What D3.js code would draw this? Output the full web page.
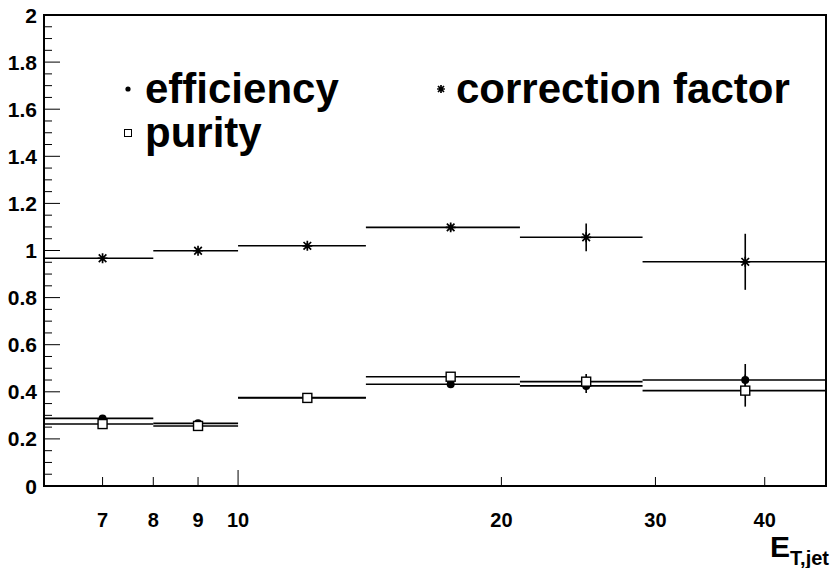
<!DOCTYPE html>
<html><head><meta charset="utf-8">
<script src="https://cdn.jsdelivr.net/npm/d3@7"></script>
<style>
html,body{margin:0;padding:0;background:#fff;}
svg{display:block;font-family:"Liberation Sans",Arial,Helvetica,sans-serif;font-weight:bold;}
</style></head>
<body><svg id="c" width="834" height="568"></svg>
<script>
// ---- data ----
const binEdges   = [6, 8, 10, 14, 21, 29, 47];
const binCenters = [7, 9, 12, 17.5, 25, 38];
const corr    = [0.967, 0.999, 1.020, 1.098, 1.056, 0.952];
const corrErr = [0.010, 0.010, 0.012, 0.015, 0.059, 0.119];
const eff     = [0.287, 0.266, 0.376, 0.432, 0.425, 0.450];
const effErr  = [0.006, 0.006, 0.008, 0.010, 0.030, 0.068];
const pur     = [0.263, 0.255, 0.374, 0.464, 0.443, 0.405];
const purErr  = [0.006, 0.006, 0.008, 0.010, 0.033, 0.068];
const xTickLabels = [7, 8, 9, 10, 20, 30, 40];
const yTickLabels = [0, 0.2, 0.4, 0.6, 0.8, 1, 1.2, 1.4, 1.6, 1.8, 2];
const legendLabels = ["efficiency", "purity", "correction factor"];

// ---- layout ----
const svg = d3.select("#c");
const L = 44, R = 826, T = 15, B = 486;
const x = d3.scaleLog().domain([6, 47]).range([L, R]);
const y = d3.scaleLinear().domain([0, 2]).range([B, T]);

// y axis ticks
const g = svg.append("g");
const yMinor = d3.range(0, 2.0001, 0.05);
g.selectAll("line.ym").data(yMinor).enter().append("line")
  .attr("x1", L).attr("x2", d => (Math.abs(d/0.2 - Math.round(d/0.2)) < 1e-6) ? L + 16 : L + 8)
  .attr("y1", d => y(d)).attr("y2", d => y(d))
  .attr("stroke", "#000").attr("stroke-width", 1);
g.selectAll("text.yl").data(yTickLabels).enter().append("text")
  .attr("x", 37).attr("y", d => y(d) + 7.5)
  .attr("text-anchor", "end").attr("font-size", 21)
  .text(d => d3.format("~g")(d));

// x axis ticks
g.selectAll("line.xt").data(xTickLabels).enter().append("line")
  .attr("x1", d => x(d)).attr("x2", d => x(d))
  .attr("y1", B).attr("y2", d => d === 10 ? B - 16 : B - 9)
  .attr("stroke", "#000").attr("stroke-width", 1);
g.selectAll("text.xl").data(xTickLabels).enter().append("text")
  .attr("x", d => x(d)).attr("y", 527)
  .attr("text-anchor", "middle").attr("font-size", 20)
  .text(d => d);

// axis title
const t = svg.append("text").attr("x", 829).attr("y", 557).attr("text-anchor", "end");
t.append("tspan").attr("font-size", 30).text("E");
t.append("tspan").attr("font-size", 20).attr("dy", 8).text("T,jet");

// frame
svg.append("rect").attr("x", L).attr("y", T).attr("width", R - L).attr("height", B - T)
  .attr("fill", "none").attr("stroke", "#000").attr("stroke-width", 2);

// ---- series ----
const plot = svg.append("g");
function errBars(vals, errs) {
  const gg = plot.append("g").attr("stroke", "#000").attr("stroke-width", 1.6);
  vals.forEach((v, i) => {
    gg.append("line").attr("x1", x(binEdges[i])).attr("x2", x(binEdges[i+1]))
      .attr("y1", y(v)).attr("y2", y(v));
    gg.append("line").attr("x1", x(binCenters[i])).attr("x2", x(binCenters[i]))
      .attr("y1", y(v - errs[i])).attr("y2", y(v + errs[i]));
  });
}
errBars(corr, corrErr);
errBars(eff, effErr);
errBars(pur, purErr);

function star(sel, cx, cy, s) {
  const p = `M${cx-s},${cy-s}L${cx+s},${cy+s}M${cx-s},${cy+s}L${cx+s},${cy-s}M${cx},${cy-s*1.3}L${cx},${cy+s*1.3}M${cx-s*1.3},${cy}L${cx+s*1.3},${cy}`;
  sel.append("path").attr("d", p).attr("stroke", "#000").attr("stroke-width", 1.7).attr("fill", "none");
}
corr.forEach((v, i) => star(plot, x(binCenters[i]), y(v), 3.8));
eff.forEach((v, i) => plot.append("circle").attr("cx", x(binCenters[i])).attr("cy", y(v)).attr("r", 4).attr("fill", "#000"));
pur.forEach((v, i) => plot.append("rect").attr("x", x(binCenters[i]) - 4.5).attr("y", y(v) - 4.5)
  .attr("width", 9).attr("height", 9).attr("fill", "#fff").attr("stroke", "#000").attr("stroke-width", 1.4));

// ---- legend ----
const lg = svg.append("g");
lg.append("circle").attr("cx", 128).attr("cy", 89).attr("r", 2.6).attr("fill", "#000");
lg.append("text").attr("x", 145).attr("y", 103).attr("font-size", 42).text(legendLabels[0]);
lg.append("rect").attr("x", 124.5).attr("y", 129.5).attr("width", 7).attr("height", 7)
  .attr("fill", "#fff").attr("stroke", "#000").attr("stroke-width", 1);
lg.append("text").attr("x", 145).attr("y", 147).attr("font-size", 42).text(legendLabels[1]);
star(lg, 441, 89, 3);
lg.append("text").attr("x", 456).attr("y", 103).attr("font-size", 42).text(legendLabels[2]);
</script></body></html>
